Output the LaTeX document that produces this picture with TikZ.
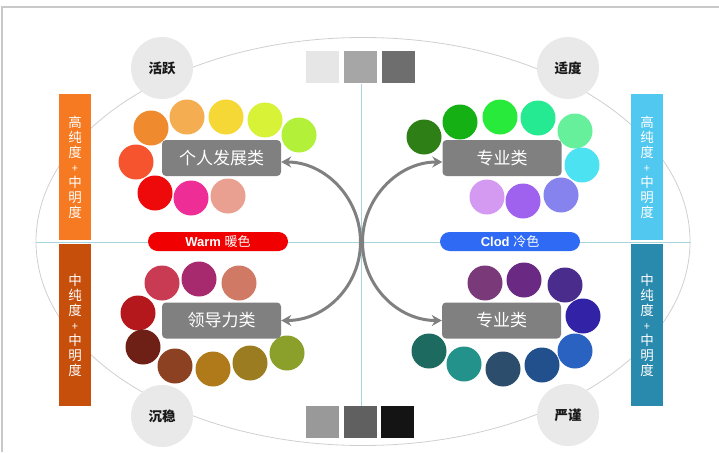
\documentclass[tikz,border=0pt]{standalone}
\usepackage{fontspec}
\setmainfont{Liberation Sans}
\newfontfamily\cjk{Noto Sans CJK SC}
\usetikzlibrary{arrows.meta}
\definecolor{framegray}{HTML}{C8C8C8}
\definecolor{ellgray}{HTML}{CFCFCF}
\definecolor{axisblue}{HTML}{A6D5DD}
\definecolor{catgray}{HTML}{808080}
\definecolor{moodgray}{HTML}{E9E9E9}
\definecolor{barA}{HTML}{F57A22}
\definecolor{barB}{HTML}{C64F0C}
\definecolor{barC}{HTML}{50C8EF}
\definecolor{barD}{HTML}{2A8AAD}
\definecolor{warmred}{HTML}{F00000}
\definecolor{coldblue}{HTML}{2F6AF5}
\definecolor{sqA}{HTML}{E6E6E6}
\definecolor{sqB}{HTML}{A6A6A6}
\definecolor{sqC}{HTML}{6E6E6E}
\definecolor{sqD}{HTML}{999999}
\definecolor{sqE}{HTML}{606060}
\definecolor{sqF}{HTML}{141414}
\tikzset{
  dot/.style={circle, minimum size=35pt, inner sep=0pt, draw=none},
  mood/.style={circle, fill=moodgray, minimum size=62pt, inner sep=0pt, text=black!90,
    font=\cjk\bfseries\fontsize{13.5}{14}\selectfont},
  cat/.style={rounded corners=4pt, fill=catgray, minimum width=119pt, minimum height=36pt,
    inner sep=0pt, text=white, font=\cjk\fontsize{17}{18}\selectfont},
  sidebar/.style={minimum width=32pt, inner sep=0pt, text=white, align=center,
    font=\cjk\fontsize{13.5}{15}\selectfont},
  pill/.style={rounded corners=9.5pt, minimum width=140pt, minimum height=19pt,
    inner sep=0pt, text=white, font=\bfseries\fontsize{13}{14}\selectfont},
  swatch/.style={minimum width=33pt, minimum height=32pt, inner sep=0pt},
  axisline/.style={draw=axisblue, line width=1pt},
  link/.style={draw=catgray, line width=3pt,
    {Stealth[length=10pt,width=11pt]}-{Stealth[length=10pt,width=11pt]}},
}
\newcommand{\plusch}{{\fontsize{11}{11}\selectfont +}}
\begin{document}
\begin{tikzpicture}[x=1pt,y=-1pt]
\useasboundingbox (0,0) rectangle (719,452);
% frame
\draw[framegray, line width=1.5pt] (2,452) -- (2,7) -- (719,7);
% ellipse
\draw[ellgray, line width=0.8pt] (363,241.5) ellipse [x radius=327, y radius=204];
% axes
\coordinate (axL) at (36,242);
\coordinate (axR) at (691,242);
\coordinate (axT) at (361,84);
\coordinate (axB) at (361,406);
\draw[axisline] (axL) -- (axR);
\draw[axisline] (axT) -- (axB);
% swatches
\node[swatch, fill=sqA] (s1) at (322.5,67) {};
\node[swatch, fill=sqB] (s2) at (360.5,67) {};
\node[swatch, fill=sqC] (s3) at (398,67) {};
\node[swatch, fill=sqD] (s4) at (322,422) {};
\node[swatch, fill=sqE] (s5) at (360,422) {};
\node[swatch, fill=sqF] (s6) at (397.5,422) {};
% side bars
\node[sidebar, fill=barA, minimum height=146pt] (b1) at (75,167) {高\\纯\\度\\\plusch\\中\\明\\度};
\node[sidebar, fill=barB, minimum height=162pt] (b2) at (75,325) {中\\纯\\度\\\plusch\\中\\明\\度};
\node[sidebar, fill=barC, minimum height=146pt] (b3) at (647,167) {高\\纯\\度\\\plusch\\中\\明\\度};
\node[sidebar, fill=barD, minimum height=162pt] (b4) at (647,325) {中\\纯\\度\\\plusch\\中\\明\\度};
% mood circles
\node[mood] (m1) at (162,68) {活跃};
\node[mood] (m2) at (568,68) {适度};
\node[mood] (m3) at (162,416) {沉稳};
\node[mood] (m4) at (568,415) {严谨};
% dots
\foreach \n/\x/\y/\c in {
  tl1/151/128/EF8A2E, tl2/187/117/F5AD52, tl3/226/117/F5D835, tl4/265/120/D8F238,
  tl5/299/135/B2F03A, tl6/136/162/F5542E, tl7/155/193/EE0A0A, tl8/191/198/EE2D96,
  tl9/228/196/E9A090,
  tr1/424/137/2E7F16, tr2/460/122/14B014, tr3/500/117/28EA3A, tr4/538/118/26EA92,
  tr5/575/131/66F09C, tr6/582/165/4DE2F2, tr7/487/197/D49AF2, tr8/523/201/9E62EE,
  tr9/561/195/8682EE,
  bl1/162/283/C93B52, bl2/199/279/A82A6E, bl3/239/283/D07A66, bl4/138/313/B4181C,
  bl5/143/347/6E2016, bl6/175/366/8C4222, bl7/213/369/B07A1A, bl8/250/363/9C7C20,
  bl9/287/353/8AA02A,
  br1/485/283/7A3A7A, br2/524/280/6A2A84, br3/565/285/4A2C8C, br4/583/316/3222A6,
  br5/575/351/2A62C2, br6/429/351/1C6A60, br7/464/364/22928A, br8/503/369/2C4E6C,
  br9/542/365/22508C}{
  \definecolor{tmpdot}{HTML}{\c}
  \node[dot, fill=tmpdot] (\n) at (\x,\y) {};
}
% category boxes
\node[cat] (ind) at (221.5,158) {个人发展类};
\node[cat] (pro1) at (502,158) {专业类};
\node[cat] (lead) at (221.5,320.5) {领导力类};
\node[cat] (pro2) at (501.5,320.5) {专业类};
% arcs
\coordinate (lmid) at (360.5,242);
\coordinate (rmid) at (362.5,242);
\draw[link] ([yshift=-4pt]ind.east) .. controls +(44,0) and +(0,-44) .. (lmid)
   .. controls +(0,44) and +(44,0) .. (lead.east);
\draw[link] ([yshift=-4pt]pro1.west) .. controls +(-44,0) and +(0,-44) .. (rmid)
   .. controls +(0,44) and +(-44,0) .. (pro2.west);
% pills
\node[pill, fill=warmred] (warm) at (218,241.5) {Warm {\cjk\mdseries 暖色}};
\node[pill, fill=coldblue] (cold) at (510,241.5) {Clod {\cjk\mdseries 冷色}};
\end{tikzpicture}
\end{document}
